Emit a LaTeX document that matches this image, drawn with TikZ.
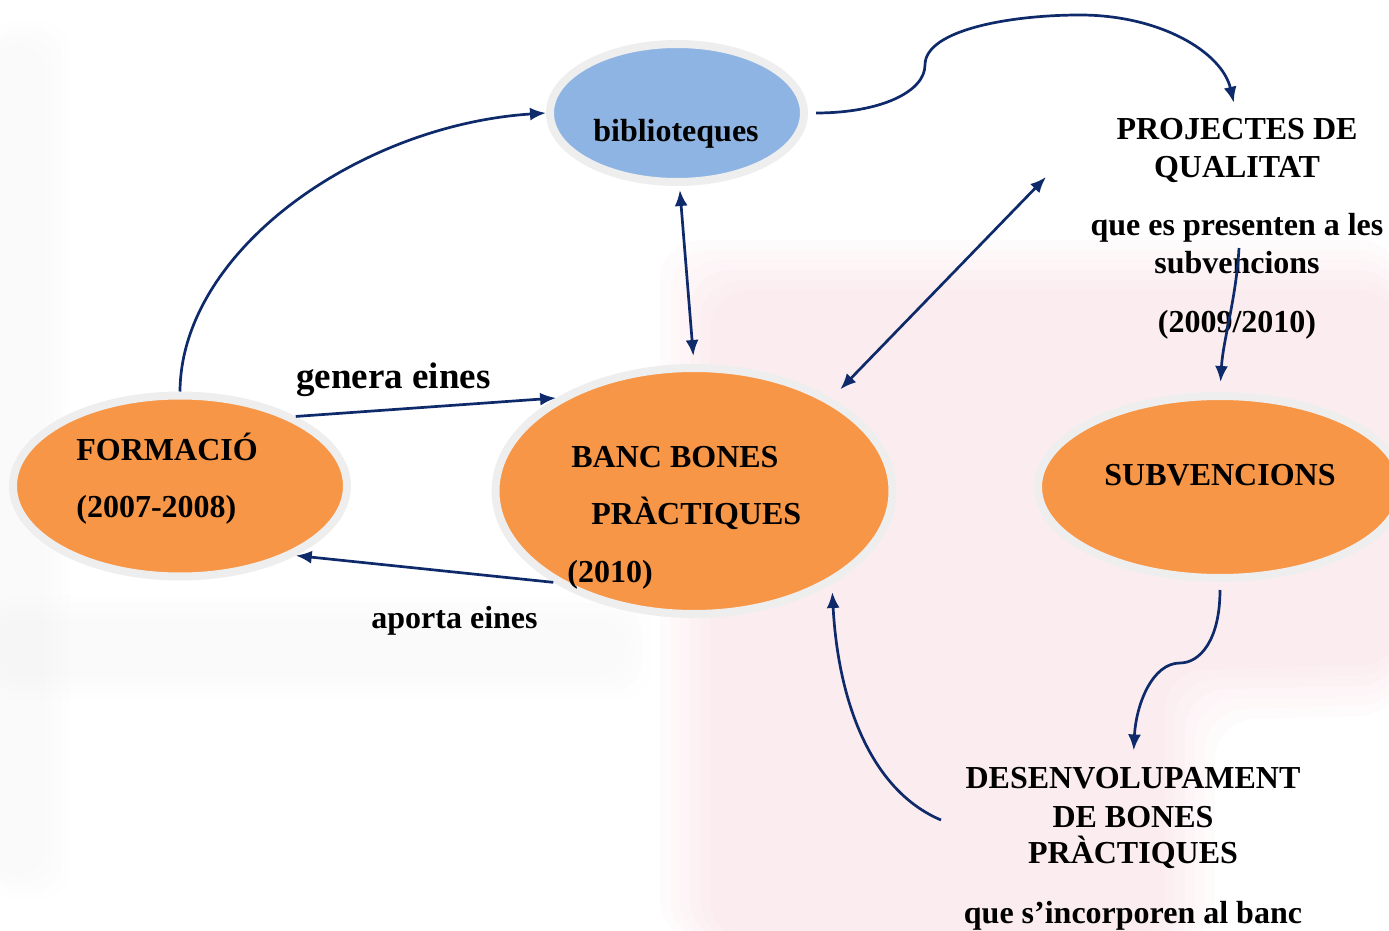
\documentclass[tikz,border=0pt]{standalone}
\usepackage{fontspec}
\setmainfont{Liberation Serif}
\usetikzlibrary{shapes.geometric,arrows.meta}
\definecolor{orangefill}{HTML}{F79646}
\definecolor{bluefill}{HTML}{8EB4E3}
\definecolor{ringgray}{HTML}{EEEEEE}
\definecolor{navy}{HTML}{0E2A6A}
\definecolor{wmpink}{HTML}{F2C3CC}
\definecolor{wmgray}{HTML}{E4E4E4}
\begin{document}
\begin{tikzpicture}[x=0.5pt,y=-0.5pt,
  blob/.style={ellipse, draw=ringgray, line width=4pt, inner sep=0pt},
  lbl/.style={font=\bfseries\fontsize{16}{18.75}\selectfont, inner sep=1pt},
  conn/.style={draw=navy, line width=1.35pt, -{Latex[length=8pt,width=6.5pt]}},
  both/.style={draw=navy, line width=1.35pt, {Latex[length=8pt,width=6.5pt]}-{Latex[length=8pt,width=6.5pt]}},
]
\useasboundingbox (0,0) rectangle (1389,931);
% faint watermark (soft edges by stacked layers)
\begin{scope}
\foreach \d in {0,10,20,30,40,50}{
  \fill[wmpink, opacity=0.06, rounded corners=20] (660+\d,240+\d) -- (1400,240+\d) -- (1400,715-\d) -- (1215-\d,720-\d) -- (1215-\d,940) -- (660+\d,940) -- cycle;
}
\foreach \d in {0,8,16,24}{
  \fill[wmgray, opacity=0.05, rounded corners=15] (-10,20+\d) rectangle (70-\d,900-\d);
  \fill[wmgray, opacity=0.05, rounded corners=15] (-10,595+\d) rectangle (650-\d,700-\d);
}
\end{scope}
% ellipses
\node[blob, fill=bluefill, minimum width=127pt, minimum height=69pt] (bib) at (677,113) {};
\node[blob, fill=orangefill, minimum width=167pt, minimum height=90.5pt] (form) at (180,486) {};
\node[blob, fill=orangefill, minimum width=198.5pt, minimum height=123pt] (banc) at (694,491) {};
\node[blob, fill=orangefill, minimum width=182pt, minimum height=91pt] (subv) at (1220,487) {};
% labels
\node[lbl, anchor=base] (tbib) at (676,142) {biblioteques};
\node[lbl, anchor=base west] (tform1) at (74,460) {FORMACIÓ};
\node[lbl, anchor=base west] (tform2) at (74,517) {(2007-2008)};
\node[lbl, anchor=base west] (tbanc1) at (569,467) {BANC BONES};
\node[lbl, anchor=base west] (tbanc2) at (589,524) {PRÀCTIQUES};
\node[lbl, anchor=base west] (tbanc3) at (565,582) {(2010)};
\node[lbl, anchor=base] (tsubv) at (1220,485) {SUBVENCIONS};
\node[lbl, anchor=base] (proj1) at (1237,140) {PROJECTES DE};
\node[lbl, anchor=base] (proj2) at (1237,177) {QUALITAT};
\node[lbl, anchor=base] (proj3) at (1237,235) {que es presenten a les};
\node[lbl, anchor=base] (proj4) at (1237,273) {subvencions};
\node[lbl, anchor=base] (proj5) at (1237,332) {(2009/2010)};
\node[lbl, anchor=base] (d1) at (1133,788) {DESENVOLUPAMENT};
\node[lbl, anchor=base] (d2) at (1133,827) {DE BONES};
\node[lbl, anchor=base] (d3) at (1133,863) {PRÀCTIQUES};
\node[lbl, anchor=base] (d4) at (1133,923) {que s’incorporen al banc};
\node[lbl, anchor=base west, font=\bfseries\fontsize{18.5}{20}\selectfont] (gen) at (294,388) {genera eines};
\node[lbl, anchor=base west] (apo) at (369,628) {aporta eines};
% free ends
\coordinate (projin) at (1046,177);
\coordinate (pstart) at (1239,248);
\coordinate (dstart) at (941,820);
% connectors
\draw[conn] (form.north) .. controls (181,250) and (360,125) .. (bib.west);
\draw[conn] (form.31) -- (banc.146);
\draw[conn] (banc.-147) -- (form.-31);
\draw[both, shorten <=2pt, shorten >=4pt] (bib.-88) -- (banc.90);
\draw[both, shorten <=6pt] (banc.34) -- (projin);
\draw[conn, shorten <=4pt, shorten >=7pt] (bib.east) .. controls (880,113) and (925,92) .. (925,65) .. controls (925,30) and (1010,15) .. (1080,15) .. controls (1160,15) and (1222,52) .. (proj1.north);
\draw[conn, shorten >=5pt] (pstart) .. controls (1236,300) and (1223,340) .. (subv.north);
\draw[conn, shorten <=4pt, shorten >=7pt] (subv.south) .. controls (1220,640) and (1200,663) .. (1180,663) .. controls (1152,663) and (1136,705) .. (d1.north);
\draw[conn, shorten >=4pt] (dstart) .. controls (870,790) and (838,700) .. (banc.-34);
\end{tikzpicture}
\end{document}
